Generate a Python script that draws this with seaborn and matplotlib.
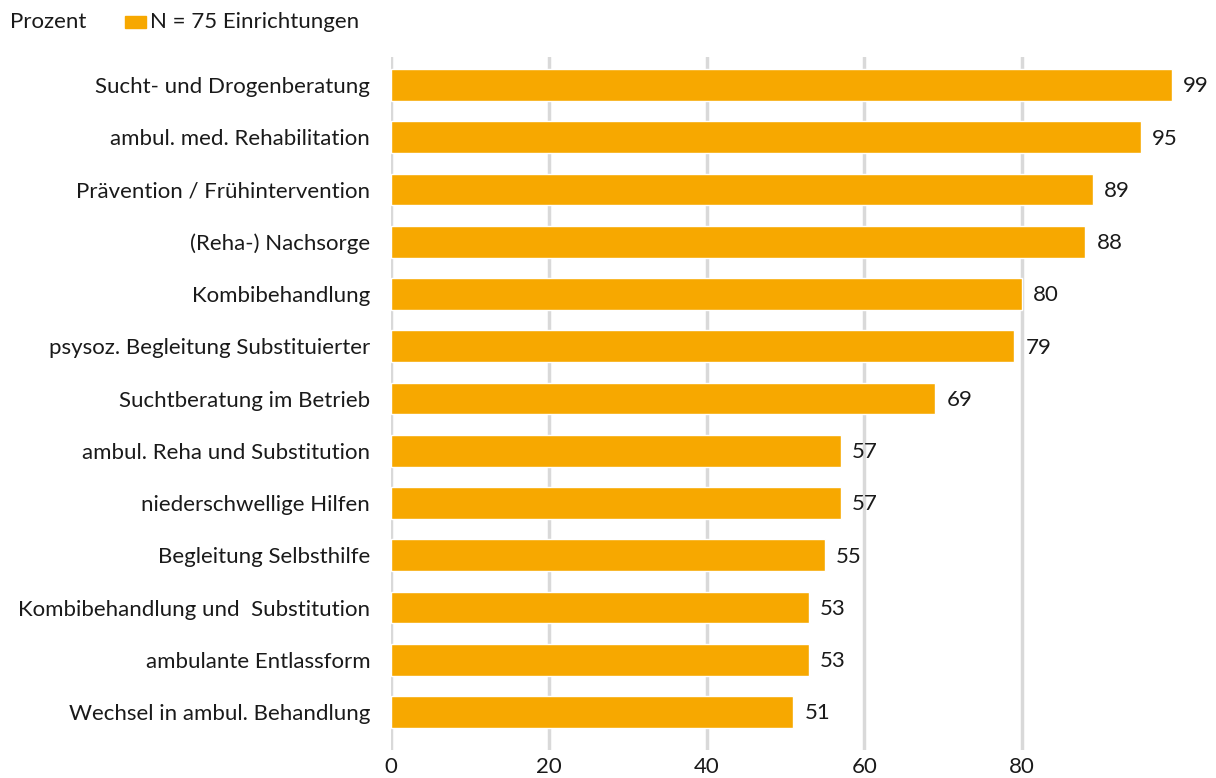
import matplotlib
matplotlib.use("Agg")
import matplotlib.pyplot as plt
import seaborn as sns
import pandas as pd

categories = [
    "Sucht- und Drogenberatung",
    "ambul. med. Rehabilitation",
    "Prävention / Frühintervention",
    "(Reha-) Nachsorge",
    "Kombibehandlung",
    "psysoz. Begleitung Substituierter",
    "Suchtberatung im Betrieb",
    "ambul. Reha und Substitution",
    "niederschwellige Hilfen",
    "Begleitung Selbsthilfe",
    "Kombibehandlung und  Substitution",
    "ambulante Entlassform",
    "Wechsel in ambul. Behandlung",
]
values = [99, 95, 89, 88, 80, 79, 69, 57, 57, 55, 53, 53, 51]
x_ticks = [0, 20, 40, 60, 80]
series_label = "N = 75 Einrichtungen"
unit_label = "Prozent"

BAR_COLOR = "#F7A800"
GRID_COLOR = "#D9D9D9"
TEXT_COLOR = "#1A1A1A"
FS = 16

sns.set_theme(style="white")
plt.rcParams["font.family"] = ["Lato", "DejaVu Sans"]

df = pd.DataFrame({"Bereich": categories, "Prozent": values})

fig = plt.figure(figsize=(12.16, 7.78), dpi=100)
ax = fig.add_axes([391 / 1216, 28 / 778, 789 / 1216, 693 / 778])

sns.barplot(data=df, y="Bereich", x="Prozent", orient="h", color=BAR_COLOR,
            saturation=1, width=0.61, ax=ax, zorder=3)

ax.set_xlim(0, 100)
ax.set_ylim(12 + 38 / 52.25, -28 / 52.25)
ax.set_xticks(x_ticks)
ax.set_xticklabels([str(t) for t in x_ticks], fontsize=FS, color=TEXT_COLOR)
ax.tick_params(axis="x", length=0, pad=5)
ax.tick_params(axis="y", length=0, pad=15, labelsize=FS, labelcolor=TEXT_COLOR)
ax.set_xlabel("")
ax.set_ylabel("")
for s in ax.spines.values():
    s.set_visible(False)
for t in x_ticks:
    ax.axvline(t, color=GRID_COLOR, lw=2.5, zorder=1)

for i, v in enumerate(values):
    ax.annotate(str(v), xy=(v, i), xytext=(8, -1), textcoords="offset points",
                va="center", ha="left", fontsize=FS, color=TEXT_COLOR)

# header line: unit and legend entry
fig.text(10 / 1216, 1 - 22 / 778, unit_label, fontsize=FS, color=TEXT_COLOR, va="center")
fig.patches.append(plt.Rectangle((125 / 1216, 1 - 28 / 778), 21 / 1216, 12 / 778,
                                 transform=fig.transFigure, color=BAR_COLOR))
fig.text(150 / 1216, 1 - 22 / 778, series_label, fontsize=FS, color=TEXT_COLOR, va="center")

fig.savefig("out.png", dpi=100)
